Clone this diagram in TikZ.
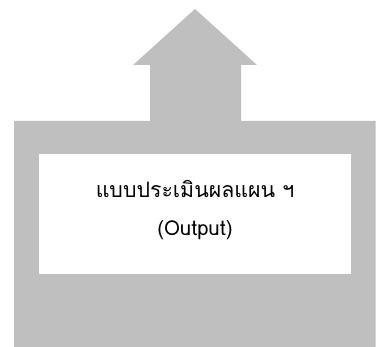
\documentclass[tikz,border=0pt]{standalone}
\usepackage{fontspec}
\newfontfamily\thaifont[Script=Thai]{Loma}
\definecolor{boxgray}{RGB}{191,191,191}
\begin{document}
\begin{tikzpicture}[x=1pt,y=-1pt,
  grayshape/.style={fill=boxgray,draw=none},
  innerbox/.style={fill=white,draw=none,minimum width=312pt,minimum height=120pt,inner sep=0pt},
  label/.style={font=\thaifont\fontsize{20.5}{20.5}\selectfont,inner sep=0pt},
  thailabel/.style={font=\thaifont\fontsize{21.3}{21.3}\selectfont,inner sep=0pt}]
\useasboundingbox (0,0) rectangle (376,347);
\fill[grayshape] (14,347) -- (14,121) -- (150,121) -- (150,65) -- (133,65) -- (195,9)
  -- (257,65) -- (241,65) -- (241,121) -- (375.5,121) -- (375.5,347) -- cycle;
\node[innerbox] (box) at (195,214) {};
\node[thailabel] (t1) at (195,189) {แบบประเมินผลแผน ฯ};
\node[label] (t2) at (195,230) {(Output)};
\end{tikzpicture}
\end{document}
